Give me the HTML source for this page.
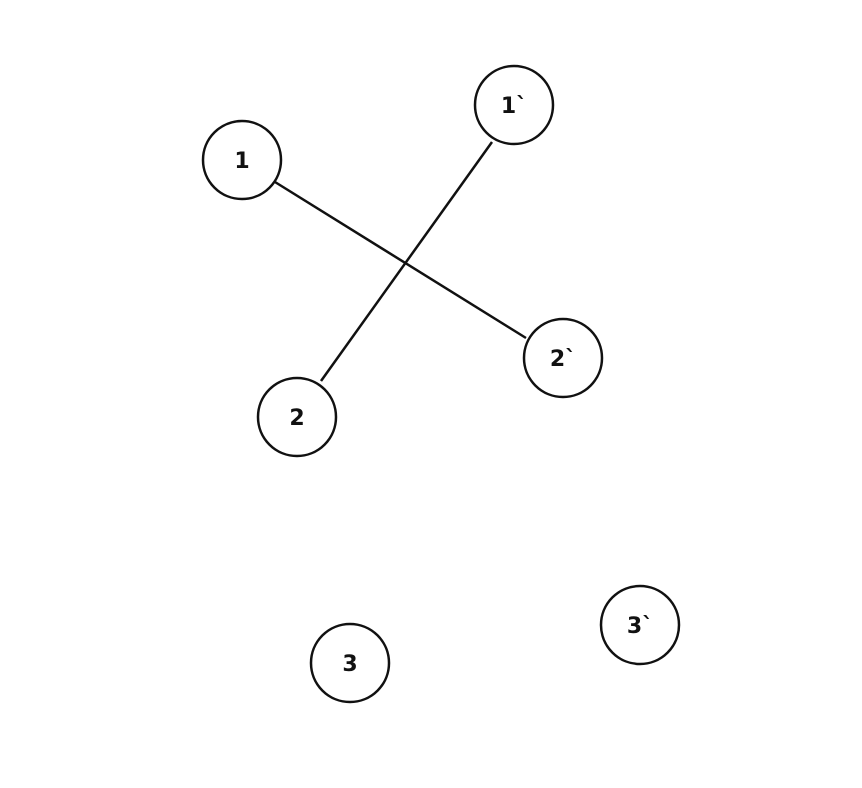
<!DOCTYPE html>
<html><head><meta charset="utf-8"><style>
html,body{margin:0;padding:0;background:#fff;}
svg{display:block;}
text{font-family:"DejaVu Sans","Liberation Sans",sans-serif;font-weight:bold;font-size:22px;fill:#111;}
</style></head><body>
<svg width="862" height="788" viewBox="0 0 862 788" xmlns="http://www.w3.org/2000/svg">
<g stroke="#111" stroke-width="2.5" fill="#fff">
<line x1="275" y1="182" x2="526" y2="338"/>
<line x1="492" y1="142" x2="321" y2="381"/>
<circle cx="242" cy="160" r="39"/>
<circle cx="514" cy="105" r="39"/>
<circle cx="297" cy="417" r="39"/>
<circle cx="563" cy="358" r="39"/>
<circle cx="350" cy="663" r="39"/>
<circle cx="640" cy="625" r="39"/>
</g>
<g text-anchor="middle">
<text x="242" y="168">1</text>
<text x="514" y="113">1`</text>
<text x="297" y="425">2</text>
<text x="563" y="366">2`</text>
<text x="350" y="671">3</text>
<text x="640" y="633">3`</text>
</g>
</svg>
</body></html>
